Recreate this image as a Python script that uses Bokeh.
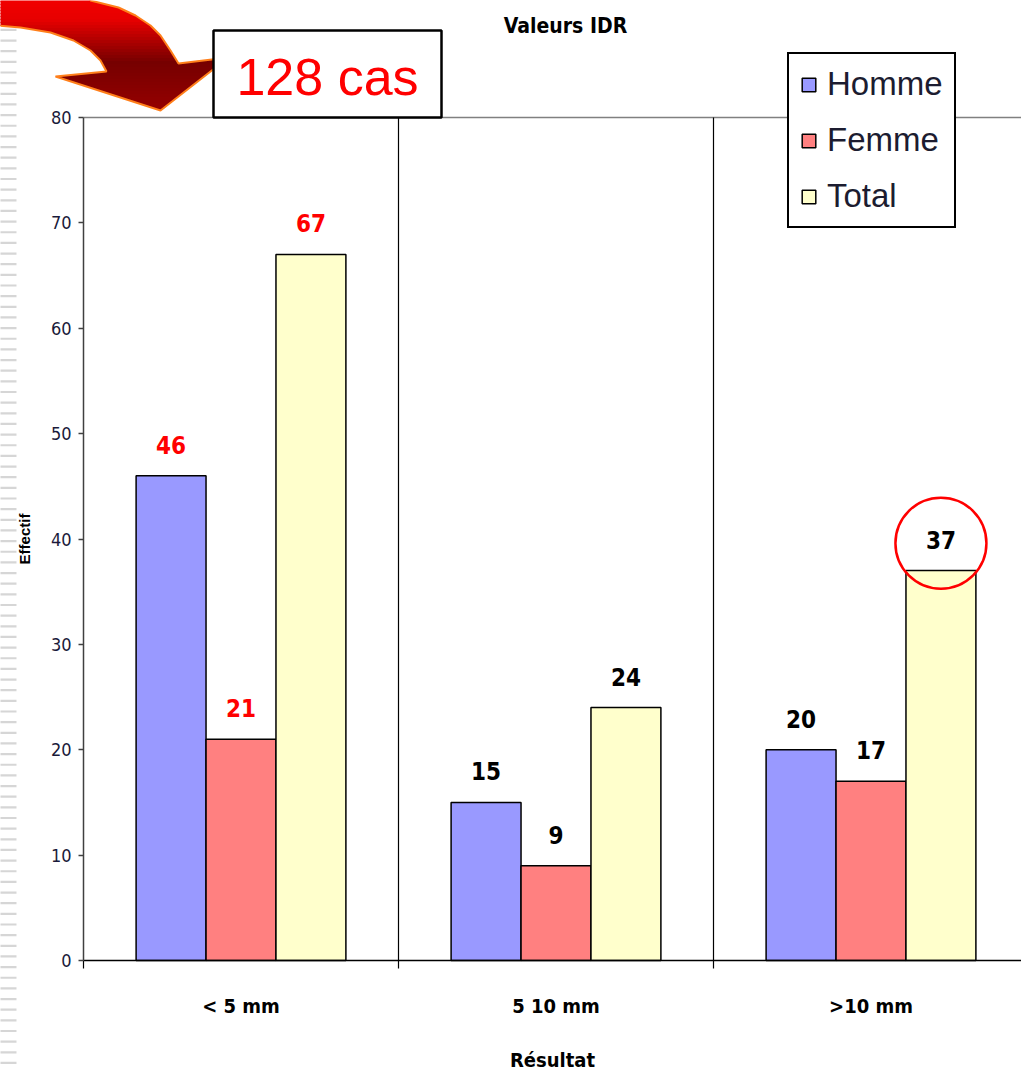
import numpy as np
from bokeh.plotting import figure
from bokeh.models import (Range1d, LinearAxis, FixedTicker, Label,
                          PolyAnnotation, Legend, LegendItem, ColumnDataSource)
from bokeh.core.properties import value
from bokeh.embed import file_html
from bokeh.resources import INLINE

# ---- data -----------------------------------------------------------------
categories = ["< 5 mm", "5 10 mm", ">10 mm"]
series = ["Homme", "Femme", "Total"]
homme = [46, 15, 20]
femme = [21, 9, 17]
total = [67, 24, 37]
y_ticks = [0, 10, 20, 30, 40, 50, 60, 70, 80]
value_label_colors = ["#ff0000", "#000000", "#000000"]   # one per category
bar_colors = ["#9999ff", "#ff8080", "#ffffcc"]
total_cases = "128 cas"

# ---- layout constants -------------------------------------------------------
W, H = 1021, 1072
AX_X, AX_TOP, AX_Y = 83, 117, 960   # pixel position of the value axis / category axis
CAT_PX = 315                         # pixel width of one category slot
Y_MAX = 80
PX_PER_UNIT = (AX_Y - AX_TOP) / Y_MAX

NARROW = "Liberation Sans Narrow, DejaVu Sans Condensed, sans-serif"
SANS = "Liberation Sans, Arial, sans-serif"


def dx(px):
    """canvas pixel -> data x"""
    return (px - AX_X) / CAT_PX


def dy(py):
    """canvas pixel -> data y"""
    return (AX_Y - py) / PX_PER_UNIT


x_end = dx(W)
# the frame covers the whole canvas; axes sit at fixed locations inside it
p = figure(width=W, height=H, x_range=Range1d(dx(0), x_end), y_range=Range1d(dy(H), dy(0)),
           output_backend="svg", toolbar_location=None,
           x_axis_type=None, y_axis_type=None, min_border=0)
p.outline_line_color = None
p.background_fill_color = "white"
p.border_fill_color = "white"

# ---- slide decorations (drawn first, underneath) ----------------------------
# striped left margin (comb-shaped polygon; spine lies off canvas)
comb_x, comb_y = [], []
yy = 7.0
while yy < H + 5:
    comb_x += [-5, 16, 16, -4]
    comb_y += [yy, yy, yy + 2.2, yy + 2.2]
    yy += 10.65
comb_x += [-4, -5]
comb_y += [H + 10, H + 10]
p.add_layout(PolyAnnotation(xs=[dx(v) for v in comb_x], ys=[dy(v) for v in comb_y],
                            fill_color="#d6d6d6", fill_alpha=1, line_color=None))

# ---- axes ------------------------------------------------------------------
yaxis = LinearAxis(ticker=FixedTicker(ticks=y_ticks, minor_ticks=[]),
                   axis_label="Effectif", fixed_location=0, bounds=(0, Y_MAX))
yaxis.axis_line_color = "#404040"
yaxis.axis_line_width = 1.5
yaxis.major_tick_line_color = "#404040"
yaxis.major_tick_line_width = 1.5
yaxis.major_tick_out = 5
yaxis.major_tick_in = 0
yaxis.minor_tick_line_color = None
yaxis.major_label_standoff = 7
yaxis.major_label_text_font = NARROW
yaxis.major_label_text_font_size = "18px"
yaxis.major_label_text_color = "#1a1a3a"
yaxis.axis_label_text_font = SANS
yaxis.axis_label_text_font_style = "bold"
yaxis.axis_label_text_font_size = "15px"
yaxis.axis_label_text_color = "#000000"
yaxis.axis_label_standoff = 15
p.add_layout(yaxis, "left")

centers = [i + 0.5 for i in range(len(categories))]
xaxis = LinearAxis(ticker=FixedTicker(ticks=centers,
                                      minor_ticks=list(range(len(categories) + 1))),
                   axis_label="Résultat", fixed_location=0, bounds=(0, x_end),
                   major_label_overrides={c: lab for c, lab in zip(centers, categories)})
xaxis.axis_line_color = "#000000"
xaxis.axis_line_width = 1.5
xaxis.major_tick_line_color = None
xaxis.major_tick_out = 0
xaxis.major_tick_in = 0
xaxis.minor_tick_line_color = "#000000"
xaxis.minor_tick_line_width = 1.2
xaxis.minor_tick_out = 8
xaxis.minor_tick_in = 0
xaxis.major_label_standoff = 25
xaxis.major_label_text_font = NARROW
xaxis.major_label_text_font_style = "bold"
xaxis.major_label_text_font_size = "20px"
xaxis.major_label_text_color = "#000000"
xaxis.axis_label_text_font = NARROW
xaxis.axis_label_text_font_style = "bold"
xaxis.axis_label_text_font_size = "20px"
xaxis.axis_label_text_color = "#000000"
xaxis.axis_label_standoff = 27
p.add_layout(xaxis, "below")

# top border of the plot area and category separators
p.segment(x0=[0], y0=[Y_MAX], x1=[x_end], y1=[Y_MAX], line_color="#808080", line_width=1.5)
seps = list(range(1, len(categories)))
p.segment(x0=seps, y0=[0] * len(seps), x1=seps, y1=[Y_MAX] * len(seps),
          line_color="#000000", line_width=1.2)

# ---- bars ------------------------------------------------------------------
bar_w = 0.222
offsets = [-bar_w, 0.0, bar_w]
values = [homme, femme, total]
bar_renderers = []
for name, vals, col, off in zip(series, values, bar_colors, offsets):
    src = ColumnDataSource(dict(
        x=[c + off for c in centers],
        top=vals,
        txt=[str(v) for v in vals],
        tcol=value_label_colors,
    ))
    r = p.vbar(x="x", top="top", width=bar_w, bottom=0, source=src,
               fill_color=col, line_color="#000000", line_width=1.5)
    bar_renderers.append(r)
    p.text(x="x", y="top", text="txt", source=src, text_color="tcol",
           text_font=value(NARROW), text_font_style="bold", text_font_size="24px",
           text_align="center", text_baseline="alphabetic", y_offset=-31)

# highlight ring around the last total value
p.scatter(x=[centers[2] + offsets[2]], y=[total[2] + 2.6], size=91, marker="circle",
          fill_color=None, line_color="#ff0000", line_width=2.5)

# ---- curved arrow -----------------------------------------------------------
arrow = [(-5, -5), (88, -5), (90, 0), (118, 7), (135, 15), (150, 25), (160, 35),
         (170, 50), (178, 63), (228, 57), (160, 110), (55, 76), (106, 71),
         (100, 60), (90, 50), (73, 40), (50, 32), (20, 27), (-5, 25)]


def clip_band(poly, y0, y1):
    def clip(pts, keep, yc):
        out = []
        n = len(pts)
        for i in range(n):
            a, b = pts[i], pts[(i + 1) % n]
            ka, kb = keep(a), keep(b)
            if ka:
                out.append(a)
            if ka != kb:
                t = (yc - a[1]) / (b[1] - a[1])
                out.append((a[0] + t * (b[0] - a[0]), yc))
        return out
    pts = clip(poly, lambda q: q[1] >= y0, y0)
    if pts:
        pts = clip(pts, lambda q: q[1] <= y1, y1)
    return pts


def arrow_color(yv):
    stops = [(-5, (245, 0, 0)), (20, (230, 0, 0)), (62, (118, 0, 0)), (110, (150, 0, 0))]
    for (ya, ca), (yb_, cb) in zip(stops[:-1], stops[1:]):
        if yv <= yb_:
            t = max(0.0, (yv - ya) / (yb_ - ya))
            c = [int(round(ca[k] + t * (cb[k] - ca[k]))) for k in range(3)]
            return "#%02x%02x%02x" % tuple(c)
    return "#%02x%02x%02x" % stops[-1][1]


step = 3.0
yb = -5.0
while yb < 112:
    band = clip_band(arrow, yb - 0.6, yb + step + 0.6)
    if len(band) >= 3:
        p.add_layout(PolyAnnotation(xs=[dx(q[0]) for q in band], ys=[dy(q[1]) for q in band],
                                    fill_color=arrow_color(yb + step / 2), fill_alpha=1,
                                    line_color=None))
    yb += step
p.add_layout(PolyAnnotation(xs=[dx(q[0]) for q in arrow], ys=[dy(q[1]) for q in arrow],
                            fill_color=None, fill_alpha=0,
                            line_color="#ff7f1a", line_alpha=1, line_width=2))

# ---- boxed case count -------------------------------------------------------
bx0, by0, bx1, by1 = 213, 30, 441, 117
p.add_layout(PolyAnnotation(xs=[dx(bx0), dx(bx1), dx(bx1), dx(bx0)],
                            ys=[dy(by0), dy(by0), dy(by1), dy(by1)],
                            fill_color="white", fill_alpha=1,
                            line_color="#000000", line_alpha=1, line_width=2.5))
p.add_layout(Label(x=dx((bx0 + bx1) / 2), y=dy(76), text=total_cases,
                   text_font=SANS, text_font_size="52px", text_color="#ff0000",
                   text_align="center", text_baseline="middle"))

# chart title
p.add_layout(Label(x=dx(565), y=dy(25), text="Valeurs IDR",
                   text_font=NARROW, text_font_style="bold", text_font_size="21px",
                   text_color="#000000", text_align="center", text_baseline="middle"))

# ---- legend ----------------------------------------------------------------
legend = Legend(items=[LegendItem(label=s, renderers=[r]) for s, r in zip(series, bar_renderers)],
                location=(787, H - 228))
legend.label_text_font = SANS
legend.label_text_font_size = "33px"
legend.label_text_color = "#1c1c30"
legend.label_height = 38
legend.label_standoff = 10
legend.glyph_width = 17
legend.glyph_height = 17
legend.spacing = 18
legend.padding = 11
legend.margin = 0
legend.border_line_color = "#000000"
legend.border_line_alpha = 1
legend.border_line_width = 2.5
legend.background_fill_color = "white"
legend.background_fill_alpha = 1
p.add_layout(legend)

open("out.html", "w").write(file_html(p, INLINE))
